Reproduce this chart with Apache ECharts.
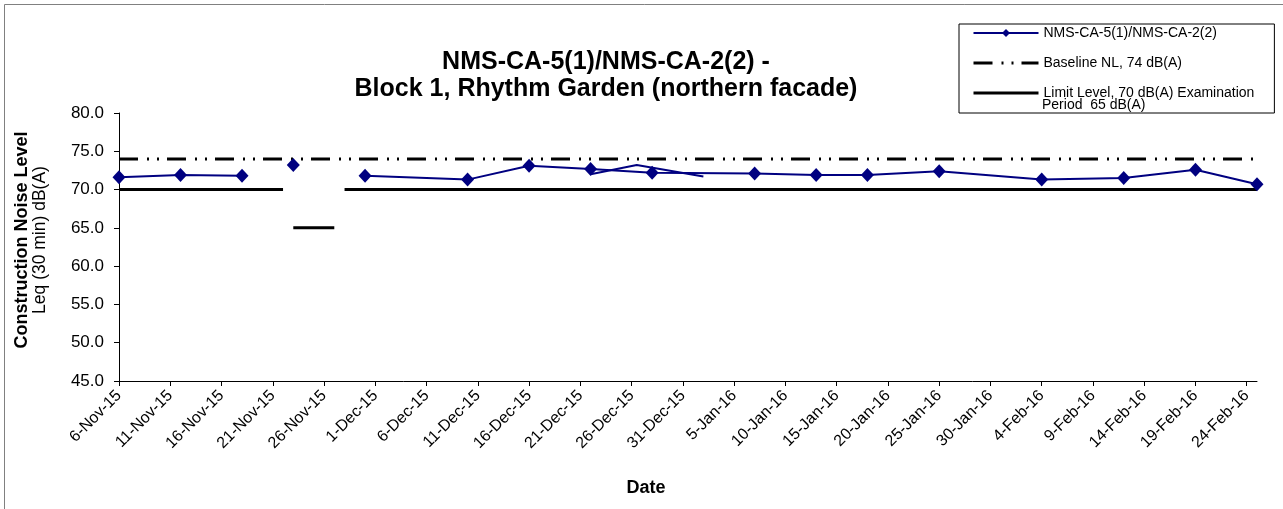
<!DOCTYPE html>
<html>
<head>
<meta charset="utf-8">
<script src="https://cdn.jsdelivr.net/npm/echarts@6/dist/echarts.min.js"></script>
<style>
html,body{margin:0;padding:0;background:#fff;}
#chart{width:1283px;height:509px;}
</style>
</head>
<body>
<div id="chart"></div>
<script>
// ---- DATA ----
const seriesName = 'NMS-CA-5(1)/NMS-CA-2(2)';
const baselineName = 'Baseline NL, 74 dB(A)';
const limitName = 'Limit Level, 70 dB(A) Examination Period  65 dB(A)';

const measureDates = ['2015-11-06','2015-11-12','2015-11-18','2015-11-21','2015-11-23','2015-11-27','2015-11-30','2015-12-10','2015-12-16','2015-12-22','2015-12-28','2016-01-07','2016-01-13','2016-01-18','2016-01-25','2016-02-04','2016-02-12','2016-02-19','2016-02-25'];
const measureValues = [71.6, 71.9, 71.8, null, 73.2, null, 71.8, 71.3, 73.1, 72.7, 72.2, 72.1, 71.9, 71.9, 72.4, 71.3, 71.5, 72.6, 70.7];

const extraDates = ['2015-12-22','2015-12-26T12:00','2016-01-02'];
const extraValues = [72.0, 73.2, 71.7];

const baselineDates = ['2015-11-06','2016-02-25'];
const baselineValues = [74, 74];

const limitDates = ['2015-11-06','2015-11-22','2015-11-22','2015-11-23','2015-11-27','2015-11-27','2015-11-28','2016-02-25'];
const limitValues = [70, 70, null, 65, 65, null, 70, 70];

const tickDates = ['2015-11-06','2015-11-11','2015-11-16','2015-11-21','2015-11-26','2015-12-01','2015-12-06','2015-12-11','2015-12-16','2015-12-21','2015-12-26','2015-12-31','2016-01-05','2016-01-10','2016-01-15','2016-01-20','2016-01-25','2016-01-30','2016-02-04','2016-02-09','2016-02-14','2016-02-19','2016-02-24'];
const yTicks = [45, 50, 55, 60, 65, 70, 75, 80];
const monthNames = ['Jan','Feb','Mar','Apr','May','Jun','Jul','Aug','Sep','Oct','Nov','Dec'];

// ---- helpers ----
function toMs(s) {
  const [d, t] = s.split('T');
  const [y, m, dd] = d.split('-').map(Number);
  let h = 0, mi = 0;
  if (t) { [h, mi] = t.split(':').map(Number); }
  return Date.UTC(y, m - 1, dd, h, mi);
}
function pairs(dates, values) {
  return dates.map((d, i) => [toMs(d), values[i] == null ? '-' : values[i]]);
}
function fmtDate(ms) {
  const d = new Date(ms);
  return d.getUTCDate() + '-' + monthNames[d.getUTCMonth()] + '-' + String(d.getUTCFullYear()).slice(2);
}

const FONT = '"Liberation Sans", Arial, sans-serif';
const tickMs = tickDates.map(toMs);

const chart = echarts.init(document.getElementById('chart'), null, {renderer: 'canvas'});
chart.setOption({
  animation: false,
  backgroundColor: '#ffffff',
  textStyle: {fontFamily: FONT, color: '#000'},
  title: [{
    text: 'NMS-CA-5(1)/NMS-CA-2(2) -\nBlock 1, Rhythm Garden (northern facade)',
    left: 601, top: 44, textAlign: 'center',
    textStyle: {fontFamily: FONT, fontSize: 25, fontWeight: 'bold', color: '#000', lineHeight: 27}
  }, {
    text: 'Date',
    left: 641, top: 474, textAlign: 'center',
    textStyle: {fontFamily: FONT, fontSize: 18, fontWeight: 'bold', color: '#000'}
  }],
  graphic: [{
    type: 'rect', silent: true, z: -10,
    shape: {x: 4.5, y: 4.5, width: 1300, height: 520},
    style: {fill: 'none', stroke: '#808080', lineWidth: 1}
  }, {
    type: 'text', left: 1042, top: 98, z: 100,
    style: {text: 'Period  65 dB(A)', font: '14px ' + FONT, fill: '#000'}
  }],
  legend: {
    orient: 'vertical',
    left: 959, top: 24,
    padding: [1, 20, 12, 13],
    itemWidth: 65, itemHeight: 10, itemGap: 14,
    borderColor: '#000', borderWidth: 1,
    backgroundColor: '#fff',
    data: [
      {name: seriesName, lineStyle: {width: 2}},
      {name: baselineName, itemStyle: {opacity: 0}, lineStyle: {width: 3}},
      {name: limitName, itemStyle: {opacity: 0}, lineStyle: {width: 3}}
    ],
    formatter: function (n) { return n === limitName ? 'Limit Level, 70 dB(A) Examination' : n; },
    textStyle: {fontFamily: FONT, fontSize: 14, color: '#000', lineHeight: 16}
  },
  grid: {left: 119, right: 26, top: 113, bottom: 128, containLabel: false},
  xAxis: {
    type: 'value',
    min: toMs('2015-11-06'), max: toMs('2016-02-25'),
    axisLine: {show: true, lineStyle: {color: '#000', width: 1}},
    axisTick: {show: true, length: 5, inside: false, customValues: tickMs, lineStyle: {color: '#000'}},
    axisLabel: {
      customValues: tickMs, rotate: 45, margin: 12,
      fontFamily: FONT, fontSize: 16, color: '#000',
      formatter: fmtDate
    },
    splitLine: {show: false}
  },
  yAxis: {
    type: 'value', min: 45, max: 80, interval: 5,
    name: '{b|Construction Noise Level}\n{n|Leq (30 min) dB(A)}',
    nameLocation: 'middle', nameRotate: 90, nameGap: 70,
    nameTextStyle: {
      padding: [0, 0, 0, 14],
      rich: {
        b: {fontFamily: FONT, fontSize: 18, fontWeight: 'bold', color: '#000', lineHeight: 18},
        n: {fontFamily: FONT, fontSize: 17.5, color: '#000', lineHeight: 18}
      }
    },
    axisLine: {show: true, lineStyle: {color: '#000', width: 1}},
    axisTick: {show: true, length: 5, inside: false, customValues: yTicks, lineStyle: {color: '#000'}},
    axisLabel: {fontFamily: FONT, fontSize: 17, color: '#000', margin: 15, formatter: v => v.toFixed(1)},
    splitLine: {show: false}
  },
  series: [{
    name: limitName, type: 'line', z: 2,
    data: pairs(limitDates, limitValues),
    symbol: 'none', connectNulls: false,
    lineStyle: {color: '#000', width: 3}, itemStyle: {color: '#000'}
  }, {
    name: baselineName, type: 'line', z: 2,
    data: pairs(baselineDates, baselineValues),
    symbol: 'none',
    lineStyle: {color: '#000', width: 3, type: [19, 9, 2, 8, 2, 8]}, itemStyle: {color: '#000'}
  }, {
    name: 'repeat', type: 'line', z: 3,
    data: pairs(extraDates, extraValues),
    symbol: 'none',
    lineStyle: {color: '#000080', width: 2}, itemStyle: {color: '#000080'}
  }, {
    name: seriesName, type: 'line', z: 4, clip: false,
    data: pairs(measureDates, measureValues),
    connectNulls: false,
    symbol: 'diamond', symbolSize: [13, 14], showAllSymbol: true,
    lineStyle: {color: '#000080', width: 2}, itemStyle: {color: '#000080'}
  }]
});
</script>
</body>
</html>
